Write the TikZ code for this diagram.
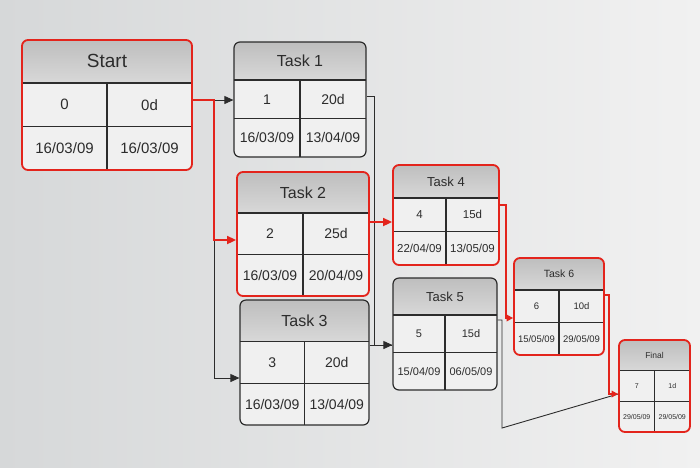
\documentclass[tikz,border=0pt]{standalone}
\usepackage{fontspec}
\setmainfont{Liberation Sans}
\usetikzlibrary{arrows.meta,fit,calc}
\definecolor{crit}{HTML}{E3241C}
\definecolor{ink}{HTML}{2C2C2C}
\definecolor{hdrtop}{HTML}{BEBEBE}
\definecolor{hdrbot}{HTML}{D8D8D8}
\definecolor{cellbg}{HTML}{F0F0F0}
\definecolor{bgleft}{HTML}{D6D8D9}
\definecolor{bgright}{HTML}{F1F1F1}
\tikzset{
  critline/.style={crit, line width=1.7pt},
  normline/.style={ink, line width=0.9pt},
  tip/.style={-{Triangle[length=9pt,width=8pt]}},
  smalltip/.style={-{Triangle[length=6.5pt,width=6.5pt]}},
  critframe/.style={draw=crit, rounded corners=6pt, inner sep=0pt, line width=1.8pt},
  normframe/.style={draw=ink, rounded corners=6pt, inner sep=0pt, line width=1.2pt},
  gridline/.style={ink, line width=1.2pt},
  txt/.style={text=ink, inner sep=0pt},
}
% #1 name, #2 left, #3 top, #4 right, #5 bottom, #6 frame style
\newcommand\pertbox[6]{%
  \pgfmathsetmacro\pbH{#3+0.33*(#5-#3)}%
  \pgfmathsetmacro\pbM{#3+0.665*(#5-#3)}%
  \pgfmathsetmacro\pbC{(#2+#4)/2}%
  \fill[cellbg, rounded corners=6pt] (#2,#3) rectangle (#4,#5);
  \shade[top color=hdrtop, bottom color=hdrbot] (#2,\pbH) [rounded corners=6pt] -- (#2,#3) -- (#4,#3) [sharp corners] -- (#4,\pbH) -- cycle;
  \draw[gridline] (#2,\pbH) -- (#4,\pbH) (#2,\pbM) -- (#4,\pbM) (\pbC,\pbH) -- (\pbC,#5);
  \node[#6, fit={(#2,#3) (#4,#5)}] (#1) {};
  \coordinate (#1-t) at (\pbC,{(#3+\pbH)/2});
  \coordinate (#1-a) at ({(#2+\pbC)/2},{(\pbH+\pbM)/2});
  \coordinate (#1-b) at ({(#4+\pbC)/2},{(\pbH+\pbM)/2});
  \coordinate (#1-c) at ({(#2+\pbC)/2},{(\pbM+#5)/2});
  \coordinate (#1-d) at ({(#4+\pbC)/2},{(\pbM+#5)/2});
}
% #1 name, #2 title size, #3 value size, #4 title, #5 id, #6 dur, #7 start, #8 end
\newcommand\pertlabels[8]{%
  \node[txt, font=\fontsize{#2}{#2}\selectfont] (#1-title) at (#1-t) {#4};
  \node[txt, font=\fontsize{#3}{#3}\selectfont] (#1-id) at (#1-a) {#5};
  \node[txt, font=\fontsize{#3}{#3}\selectfont] (#1-dur) at (#1-b) {#6};
  \node[txt, font=\fontsize{#3}{#3}\selectfont] (#1-es) at (#1-c) {#7};
  \node[txt, font=\fontsize{#3}{#3}\selectfont] (#1-ef) at (#1-d) {#8};
}
\begin{document}
\begin{tikzpicture}[x=1pt,y=-1pt]
  \shade[left color=bgleft, right color=bgright] (0,0) rectangle (700,467);
  \useasboundingbox (0,0) rectangle (700,467);

  % nodes
  \pertbox{start}{22}{40}{192}{170}{critframe}
  \pertlabels{start}{19}{15}{Start}{0}{0d}{16/03/09}{16/03/09}
  \pertbox{t1}{234}{42}{366}{157}{normframe}
  \pertlabels{t1}{16}{14}{Task 1}{1}{20d}{16/03/09}{13/04/09}
  \pertbox{t2}{237}{172}{369}{296}{critframe}
  \pertlabels{t2}{16}{14}{Task 2}{2}{25d}{16/03/09}{20/04/09}
  \pertbox{t3}{240}{300}{369}{425}{normframe}
  \pertlabels{t3}{16}{14}{Task 3}{3}{20d}{16/03/09}{13/04/09}
  \pertbox{t4}{393}{165}{499}{265}{critframe}
  \pertlabels{t4}{13}{11.5}{Task 4}{4}{15d}{22/04/09}{13/05/09}
  \pertbox{t5}{393}{278}{497}{390}{normframe}
  \pertlabels{t5}{13}{11}{Task 5}{5}{15d}{15/04/09}{06/05/09}
  \pertbox{t6}{514}{258}{604}{355}{critframe}
  \pertlabels{t6}{10.5}{9.5}{Task 6}{6}{10d}{15/05/09}{29/05/09}
  \pertbox{fin}{619}{340}{690}{432}{critframe}
  \pertlabels{fin}{8.5}{7}{Final}{7}{1d}{29/05/09}{29/05/09}

  % connector points
  \coordinate (s-out) at (start.east |- 0,100);
  \coordinate (j1) at (214,100);
  \coordinate (t1-in) at (t1.west |- 0,100);
  \coordinate (t2-in) at (t2.west |- 0,240);
  \coordinate (t3-in) at (t3.west |- 0,378);
  \coordinate (j2) at (374,96);
  \coordinate (t5-in) at (t5.west |- 0,345);
  \coordinate (t4-in) at (t4.west |- 0,222);
  \coordinate (j3) at (506,205);
  \coordinate (t6-in) at (t6.west |- 0,318);
  \coordinate (j4) at (502,320);
  \coordinate (j5) at (502,428);
  \coordinate (j6) at (609,295);
  \coordinate (f-in) at (fin.west |- 0,394);

  % non-critical connectors
  \draw[normline, tip] (j1) -- (t1-in);
  \draw[normline, tip] (j1 |- t2-in) |- (t3-in);
  \draw[normline, tip] (t1.east |- j2) -- (j2) |- (t5-in);
  \draw[normline] (t3.east |- t5-in) -- (t5-in);
  \draw[normline] (t5.east |- j4) -- (j4) -- (j5) -- (f-in);

  % critical path
  \draw[critline, tip] (s-out) -- (j1) |- (t2-in);
  \draw[critline, tip] (t2.east |- t4-in) -- (t4-in);
  \draw[critline, smalltip] (t4.east |- j3) -- (j3) |- (t6-in);
  \draw[critline, smalltip] (t6.east |- j6) -- (j6) |- (f-in);
\end{tikzpicture}
\end{document}
